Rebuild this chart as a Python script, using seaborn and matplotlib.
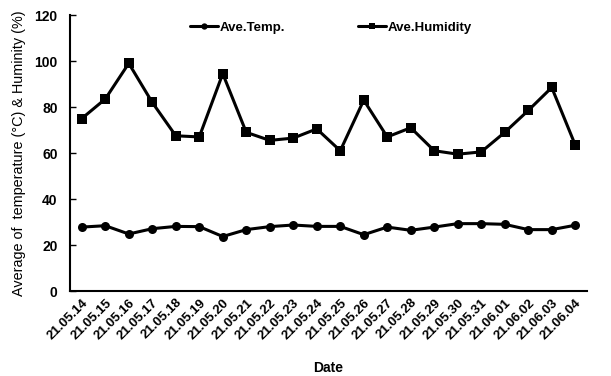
import numpy as np
import pandas as pd
import matplotlib
matplotlib.use("Agg")
import matplotlib.pyplot as plt
import seaborn as sns

dates = ["21.05.14", "21.05.15", "21.05.16", "21.05.17", "21.05.18", "21.05.19",
         "21.05.20", "21.05.21", "21.05.22", "21.05.23", "21.05.24", "21.05.25",
         "21.05.26", "21.05.27", "21.05.28", "21.05.29", "21.05.30", "21.05.31",
         "21.06.01", "21.06.02", "21.06.03", "21.06.04"]
temp = [27.8, 28.4, 24.8, 27.1, 28.1, 28.0, 23.7, 26.7, 28.0, 28.7, 28.1, 28.1,
        24.5, 27.8, 26.4, 27.8, 29.3, 29.3, 29.0, 26.7, 26.7, 28.6]
humidity = [75, 83.5, 99, 82, 67.5, 67, 94.5, 69, 65.5, 66.5, 70.5, 61,
            83, 67, 71, 61, 59.5, 60.5, 69, 78.5, 88.5, 63.5]
yticks = [0, 20, 40, 60, 80, 100, 120]

sns.set_theme(style="white")
plt.rcParams['font.family'] = ['Liberation Sans', 'DejaVu Sans']
plt.rcParams.update({'text.color': 'black', 'axes.labelcolor': 'black',
                     'xtick.color': 'black', 'ytick.color': 'black',
                     'xtick.labelcolor': 'black', 'ytick.labelcolor': 'black'})

fig = plt.figure(figsize=(6.11, 3.76), dpi=100)
ax = fig.add_axes([0.1146, 0.226, 0.8461, 0.734])

idx = np.arange(len(dates))
df = pd.DataFrame({"idx": np.concatenate([idx, idx]),
                   "value": temp + humidity,
                   "series": ["Ave.Temp."] * len(dates) + ["Ave.Humidity"] * len(dates)})

sns.lineplot(data=df, x="idx", y="value", hue="series", style="series",
             markers={"Ave.Temp.": "o", "Ave.Humidity": "s"}, dashes=False,
             palette={"Ave.Temp.": "black", "Ave.Humidity": "black"},
             linewidth=2.2, markersize=6.5, markeredgewidth=0, ax=ax, legend=True)

ax.set_xlim(-0.5, len(dates) - 0.5)
ax.set_ylim(0, 120)
ax.set_yticks(yticks)
ax.set_yticklabels([str(v) for v in yticks], fontsize=10, fontweight='bold')
ax.set_xticks(idx)
ax.set_xticklabels(dates, rotation=45, ha='right', rotation_mode='anchor',
                   fontsize=9.5, fontweight='bold')
ax.set_xticks(np.arange(0.5, len(dates) - 0.5, 1), minor=True)
ax.tick_params(axis='x', which='major', length=0, pad=4)
ax.tick_params(axis='x', which='minor', direction='in', length=4, width=1, color='black')
ax.tick_params(axis='y', direction='in', length=4, width=1, color='black', left=True, pad=9)

for s in ['top', 'right']:
    ax.spines[s].set_visible(False)
for s in ['left', 'bottom']:
    ax.spines[s].set_color('black')
    ax.spines[s].set_linewidth(1.5)

ax.set_xlabel("Date", fontsize=10, fontweight='bold', labelpad=14)
ax.set_ylabel("Average of  temperature (°C) & Huminity (%)", fontsize=10.4,
              fontweight='normal', labelpad=6)

handles, labels = ax.get_legend_handles_labels()
ax.legend(handles, labels, loc='upper center', bbox_to_anchor=(0.505, 1.02), ncol=2,
          frameon=False, columnspacing=5.5, handlelength=2.1, handletextpad=0.15,
          markerscale=0.7, prop={'size': 9.5, 'weight': 'bold'})

fig.savefig("out.png", dpi=100)
